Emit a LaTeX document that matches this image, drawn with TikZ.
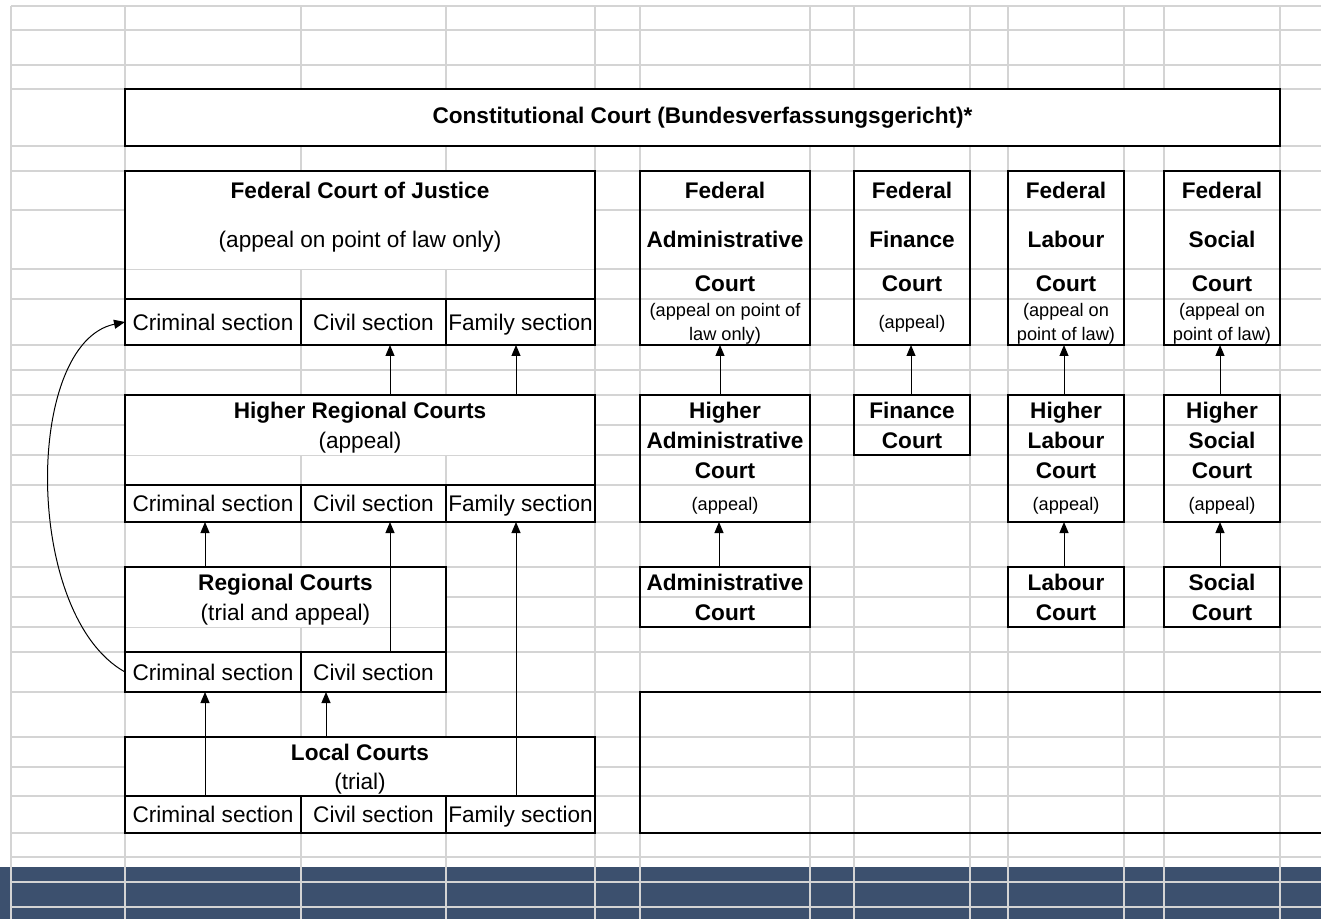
\documentclass[tikz,border=0pt]{standalone}
\usepackage{fontspec}
\setmainfont{Liberation Sans}
\usetikzlibrary{arrows.meta}

\definecolor{gridgray}{RGB}{212,212,212}
\definecolor{bandblue}{RGB}{60,80,110}

\begin{document}
\begin{tikzpicture}[x=0.5pt,y=-0.5pt,
    gridline/.style={draw=gridgray,line width=1pt},
    court/.style={draw,line width=1pt,inner sep=0pt,outer sep=0pt},
    section/.style={court,font=\fontsize{11.3}{13}\selectfont,text height=8pt,text depth=0pt},
    head/.style={inner sep=0pt,font=\bfseries\fontsize{11.3}{13}\selectfont,text height=8pt,text depth=0pt},
    note/.style={inner sep=0pt,font=\fontsize{11.3}{13}\selectfont,text height=8pt,text depth=0pt},
    small/.style={inner sep=0pt,font=\fontsize{9.1}{11}\selectfont,text height=6.5pt,text depth=0pt},
    arr/.style={-{Triangle[length=5.5pt,width=4.5pt]},line width=0.5pt}]
    \useasboundingbox (0,0) rectangle (1321,919);

    % Sheet grid
    \fill[bandblue] (0,867) rectangle (1321,919);
    \foreach \y in {6,30,65,89,146,171,210,269,299,345,370,395,425,455,485,522,567,597,627,652,692,737,767,796,833,857,882,907}
        \draw[gridline] (11,\y) -- (1321,\y);
    \foreach \x in {11,125,301,446,595,640,810,854,970,1008,1124,1164,1280}
        \draw[gridline] (\x,6) -- (\x,919);

    % Merged cells hide the grid
    \fill[white] (125,171) rectangle (595,269);
    \fill[white] (125,395) rectangle (595,455);
    \fill[white] (125,567) rectangle (446,627);
    \fill[white] (125,737) rectangle (595,796);

    % Constitutional court
    \node[court,fill=white,minimum width=577.5pt,minimum height=28.5pt,
          font=\bfseries\fontsize{11.3}{13}\selectfont] (const) at (702.5,117.5)
          {Constitutional Court (Bundesverfassungsgericht)*};

    % Ordinary courts
    \node[court,minimum width=235pt,minimum height=87pt] (fcj) at (360,258) {};
    \node[head] (fcj-t) at (360,190.5) {Federal Court of Justice};
    \node[note] (fcj-n) at (360,239.5) {(appeal on point of law only)};
    \node[section,minimum width=88pt,minimum height=23pt] (fcjCrim) at (213,322) {Criminal section};
    \node[section,minimum width=72.5pt,minimum height=23pt] (fcjCiv) at (373.5,322) {Civil section};
    \node[section,minimum width=74.5pt,minimum height=23pt] (fcjFam) at (520.5,322) {Family section};

    \node[court,minimum width=235pt,minimum height=63.5pt] (hrc) at (360,458.5) {};
    \node[head] (hrc-t) at (360,410) {Higher Regional Courts};
    \node[note] (hrc-n) at (360,440) {(appeal)};
    \node[section,minimum width=88pt,minimum height=18.5pt] (hrcCrim) at (213,503.5) {Criminal section};
    \node[section,minimum width=72.5pt,minimum height=18.5pt] (hrcCiv) at (373.5,503.5) {Civil section};
    \node[section,minimum width=74.5pt,minimum height=18.5pt] (hrcFam) at (520.5,503.5) {Family section};

    \node[court,minimum width=160.5pt,minimum height=62.5pt] (rc) at (285.5,629.5) {};
    \node[head] (rc-t) at (285.5,582) {Regional Courts};
    \node[note] (rc-n) at (285.5,612) {(trial and appeal)};
    \node[section,minimum width=88pt,minimum height=20pt] (rcCrim) at (213,672) {Criminal section};
    \node[section,minimum width=72.5pt,minimum height=20pt] (rcCiv) at (373.5,672) {Civil section};

    \node[court,minimum width=235pt,minimum height=48pt] (loc) at (360,785) {};
    \node[head] (loc-t) at (360,752) {Local Courts};
    \node[note] (loc-n) at (360,781.5) {(trial)};
    \node[section,minimum width=88pt,minimum height=18.5pt] (locCrim) at (213,814.5) {Criminal section};
    \node[section,minimum width=72.5pt,minimum height=18.5pt] (locCiv) at (373.5,814.5) {Civil section};
    \node[section,minimum width=74.5pt,minimum height=18.5pt] (locFam) at (520.5,814.5) {Family section};

    % Specialised courts
    \node[court,minimum width=85pt,minimum height=87pt] (adm-fed) at (725,258) {};
    \node[court,minimum width=85pt,minimum height=63.5pt] (adm-hi) at (725,458.5) {};
    \node[court,minimum width=85pt,minimum height=30pt] (adm-low) at (725,597) {};
    \node[court,minimum width=58pt,minimum height=87pt] (fin-fed) at (912,258) {};
    \node[court,minimum width=58pt,minimum height=30pt] (fin-hi) at (912,425) {};
    \foreach \nm/\cx in {lab/1066,soc/1222}{
        \node[court,minimum width=58pt,minimum height=87pt] (\nm-fed) at (\cx,258) {};
        \node[court,minimum width=58pt,minimum height=63.5pt] (\nm-hi) at (\cx,458.5) {};
        \node[court,minimum width=58pt,minimum height=30pt] (\nm-low) at (\cx,597) {};
    }
    \foreach \nm/\cx/\kind in {adm/725/Administrative,fin/912/Finance,lab/1066/Labour,soc/1222/Social}{
        \node[head] (\nm-fed1) at (\cx,190.5) {Federal};
        \node[head] (\nm-fed2) at (\cx,239.5) {\kind};
        \node[head] (\nm-fed3) at (\cx,284) {Court};
    }
    \node[small] (adm-fed4) at (725,310) {(appeal on point of};
    \node[small] (adm-fed5) at (725,334) {law only)};
    \node[small] (fin-fed4) at (912,322) {(appeal)};
    \foreach \nm/\cx in {lab/1066,soc/1222}{
        \node[small] (\nm-fed4) at (\cx,310) {(appeal on};
        \node[small] (\nm-fed5) at (\cx,334) {point of law)};
    }
    \foreach \nm/\cx/\kind in {adm/725/Administrative,lab/1066/Labour,soc/1222/Social}{
        \node[head] (\nm-hi1) at (\cx,410) {Higher};
        \node[head] (\nm-hi2) at (\cx,440) {\kind};
        \node[head] (\nm-hi3) at (\cx,470) {Court};
        \node[small] (\nm-hi4) at (\cx,503.5) {(appeal)};
        \node[head] (\nm-low1) at (\cx,582) {\kind};
        \node[head] (\nm-low2) at (\cx,612) {Court};
    }
    \node[head] (fin-hi1) at (912,410) {Finance};
    \node[head] (fin-hi2) at (912,440) {Court};

    % Empty frame
    \draw[line width=1pt] (1321,692) -- (640,692) -- (640,833) -- (1321,833);

    % Appeals
    \coordinate (aCrim) at (205,0);
    \coordinate (aLoc) at (326,0);
    \coordinate (aCiv) at (390,0);
    \coordinate (aFam) at (516,0);
    \draw[arr] (hrc.north -| aCiv) -- (fcjCiv.south -| aCiv);
    \draw[arr] (hrc.north -| aFam) -- (fcjFam.south -| aFam);
    \draw[arr] (rc.north -| aCrim) -- (hrcCrim.south -| aCrim);
    \draw[arr] (rcCiv.north -| aCiv) -- (hrcCiv.south -| aCiv);
    \draw[arr] (locFam.north -| aFam) -- (hrcFam.south -| aFam);
    \draw[arr] (locCrim.north -| aCrim) -- (rcCrim.south -| aCrim);
    \draw[arr] (loc.north -| aLoc) -- (rcCiv.south -| aLoc);
    \draw[arr] (rcCrim.west) .. controls (23,615) and (24,343) .. (fcjCrim.west);
    \foreach \lo/\hi/\dx in {adm-hi/adm-fed/-2.5pt,adm-low/adm-hi/-3pt,fin-hi/fin-fed/-0.5pt,
                             lab-hi/lab-fed/-1pt,lab-low/lab-hi/-1pt,soc-hi/soc-fed/-1pt,soc-low/soc-hi/-1pt}
        \draw[arr] ([xshift=\dx]\lo.north) -- ([xshift=\dx]\hi.south);
\end{tikzpicture}
\end{document}
